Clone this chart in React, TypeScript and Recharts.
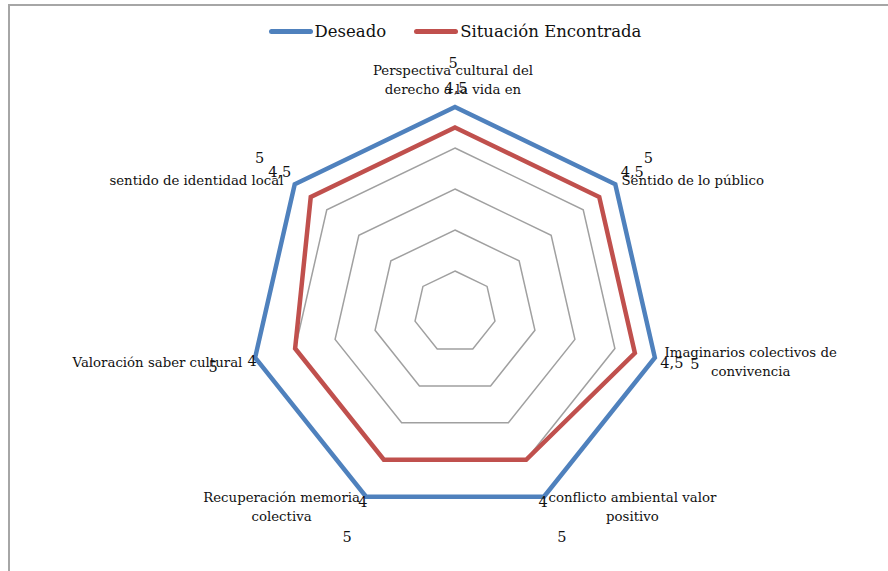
import React from "react"
import { RadarChart, Radar, PolarGrid, PolarAngleAxis, PolarRadiusAxis } from "recharts"

const categories = [
  "Perspectiva cultural del\nderecho a la vida en",
  "Sentido de lo público",
  "Imaginarios colectivos de\nconvivencia",
  "conflicto ambiental valor\npositivo",
  "Recuperación memoria\ncolectiva",
  "Valoración saber cultural",
  "sentido de identidad local",
]
const deseado = [5, 5, 5, 5, 5, 5, 5]
const situacion = [4.5, 4.5, 4.5, 4, 4, 4, 4.5]

const data = categories.map((categoria, i) => ({
  categoria,
  deseado: deseado[i],
  situacion: situacion[i],
}))

const FONT = "'DejaVu Serif', serif"
const BLUE = "#4f81bd"
const RED = "#c0504d"

// where each category label sits, relative to the axis tick point
const TICK_LAYOUT = [
  { dx: -2, dy: -29, anchor: "middle" },
  { dx: 0, dy: 1, anchor: "start" },
  { dx: 88, dy: -7, anchor: "middle" },
  { dx: 85, dy: -7, anchor: "middle" },
  { dx: -81, dy: -7, anchor: "middle" },
  { dx: -5, dy: 3, anchor: "end" },
  { dx: -5, dy: 1, anchor: "end" },
]

// excel-style data label offsets from each point
const DES_OFF = [[-2, -44], [33, -26], [40, 6], [18, 40], [-19, 40], [-42, 9], [-35, -26]]
const SIT_OFF = [[1, -40], [33, -25], [37, 10], [17, 42], [-21, 42], [-43, 13], [-31, -25]]

function CategoryTick(props: any) {
  const { x, y, payload, index } = props
  const l = TICK_LAYOUT[index] || { dx: 0, dy: 0, anchor: "middle" }
  const lines = String(payload.value).split("\n")
  return (
    <text
      x={x + l.dx}
      y={y + l.dy}
      textAnchor={l.anchor}
      fontFamily={FONT}
      fontSize={13.3}
      fill="#111"
      dominantBaseline="central"
    >
      {lines.map((ln, i) => (
        <tspan key={i} x={x + l.dx} dy={i === 0 ? 0 : 19}>
          {ln}
        </tspan>
      ))}
    </text>
  )
}

function makeValueLabel(offsets: number[][]) {
  return (props: any) => {
    const x = props.x ?? props.viewBox?.x
    const y = props.y ?? props.viewBox?.y
    const idx = props.index ?? 0
    const [dx, dy] = offsets[idx] || [0, 0]
    return (
      <text
        key={`lbl-${idx}`}
        x={x + dx}
        y={y + dy}
        textAnchor="middle"
        dominantBaseline="central"
        fontFamily={FONT}
        fontSize={14.5}
        fill="#111"
      >
        {String(props.value).replace(".", ",")}
      </text>
    )
  }
}

function LegendItem({ color, text }: { color: string; text: string }) {
  return (
    <div style={{ display: "flex", alignItems: "center" }}>
      <div style={{ width: 44, height: 5, borderRadius: 3, background: color, marginRight: 2 }} />
      <span style={{ fontFamily: FONT, fontSize: 16.5, color: "#111" }}>{text}</span>
    </div>
  )
}

export default function App() {
  return (
    <div style={{ position: "fixed", left: 0, top: 0, width: 888, height: 571, overflow: "hidden", background: "#fff" }}>
      <div
        style={{
          position: "absolute",
          left: 8,
          top: 4,
          width: 900,
          height: 600,
          borderLeft: "2px solid #a6a6a6",
          borderTop: "2px solid #a6a6a6",
        }}
      />
      <div
        style={{
          position: "absolute",
          top: 22,
          left: 22,
          width: 866,
          display: "flex",
          justifyContent: "center",
          gap: 28,
        }}
      >
        <LegendItem color={BLUE} text="Deseado" />
        <LegendItem color={RED} text="Situación Encontrada" />
      </div>
      <div style={{ position: "absolute", left: 0, top: 0 }}>
        <RadarChart
          width={888}
          height={571}
          data={data}
          cx={455}
          cy={312}
          outerRadius={205}
          margin={{ top: 0, right: 0, bottom: 0, left: 0 }}
        >
          <PolarGrid gridType="polygon" radialLines={false} stroke="#a0a0a0" strokeWidth={1.5} />
          <PolarAngleAxis dataKey="categoria" tick={<CategoryTick />} tickLine={false} axisLine={false} />
          <PolarRadiusAxis domain={[0, 5]} tickCount={6} tick={false} axisLine={false} />
          <Radar
            dataKey="deseado"
            stroke={BLUE}
            strokeWidth={4.5}
            fill="none"
            fillOpacity={0}
            dot={false}
            isAnimationActive={false}
            label={makeValueLabel(DES_OFF)}
          />
          <Radar
            dataKey="situacion"
            stroke={RED}
            strokeWidth={4.5}
            fill="none"
            fillOpacity={0}
            dot={false}
            isAnimationActive={false}
            label={makeValueLabel(SIT_OFF)}
          />
        </RadarChart>
      </div>
    </div>
  )
}
